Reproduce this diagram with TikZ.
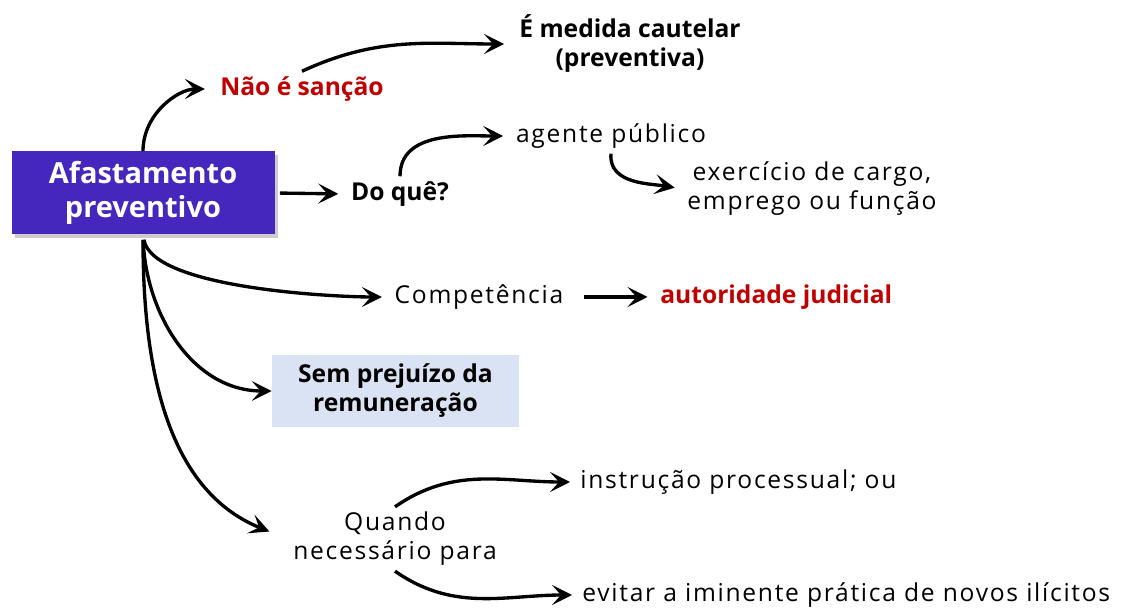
\documentclass[tikz,border=0pt]{standalone}
\usepackage{fontspec}
\setmainfont{Open Sans}
\newfontfamily\widefont{Open Sans}[LetterSpace=7]
\usepackage{tikz}
\usetikzlibrary{arrows.meta,positioning,shadows}
\definecolor{mainpurple}{HTML}{4527BE}
\definecolor{alertred}{HTML}{C00000}
\definecolor{paleblue}{HTML}{DAE3F3}
\tikzset{
  mainbox/.style = {fill=mainpurple, text=white, align=center,
                    font=\fontsize{16.5}{19}\selectfont\bfseries,
                    minimum width=52.6mm, minimum height=16.6mm,
                    drop shadow={opacity=0.4, shadow xshift=0.6mm, shadow yshift=-0.8mm}},
  note/.style    = {align=center, inner sep=1mm, font=\fontsize{14}{16.5}\selectfont\widefont},
  keynote/.style = {align=center, inner sep=1mm, font=\fontsize{14}{16.5}\selectfont\bfseries},
  hibox/.style   = {keynote, fill=paleblue, minimum width=49.4mm, minimum height=14.4mm},
  vec/.style     = {-{Stealth[length=4mm,width=4mm,inset=1.8mm]}, line width=1.9pt},
}

\begin{document}
\begin{tikzpicture}
  \useasboundingbox (0,0) rectangle (22.88,-12.16);
  \node[mainbox] (afast) at (2.86,-3.86) {Afastamento\\preventivo};
  \node[keynote,text=alertred] (nao) at (6.04,-1.78) {Não é sanção};
  \node[keynote] (medida) at (12.6,-0.88) {É medida cautelar\\(preventiva)};
  \node[keynote] (doque) at (8.0,-3.88) {Do quê?};
  \node[note] (agente) at (12.22,-2.72) {agente público};
  \node[note] (exerc) at (16.24,-3.78) {exercício de cargo,\\emprego ou função};
  \node[note] (compet) at (9.58,-5.94) {Competência};
  \node[keynote,text=alertred,anchor=west] (autor) at (13.1,-5.94 |- compet.west) {autoridade judicial};
  \node[hibox] (semprej) at (7.91,-7.82) {Sem prejuízo da\\remuneração};
  \node[note] (quando) at (7.9,-10.78) {Quando\\necessário para};
  \node[note,anchor=west] (instr) at (11.5,-9.64) {instrução processual; ou};
  \node[note,anchor=west] (evitar) at (11.54,-11.9) {evitar a iminente prática de novos ilícitos};

  % top branch
  \draw[vec,shorten >=2mm] (afast.north) to[out=90,in=180] (nao.west);
  \draw[vec,shorten >=2mm] (nao.north) to[out=25,in=180] (medida.west);
  % what
  \draw[vec,shorten <=1mm,shorten >=1.5mm] (afast.east) -- (doque.west);
  \draw[vec,shorten >=1.5mm] (doque.north) to[out=90,in=180] (agente.west);
  \draw[vec,shorten >=1.5mm] (agente.south) to[out=-95,in=170] (exerc.west);
  % lower branches
  \draw[vec,shorten <=1mm,shorten >=1.5mm] (afast.south) to[out=-80,in=180,looseness=0.55] (compet.west);
  \draw[vec,shorten <=1mm] (afast.south) to[out=-88,in=180] (semprej.west);
  \draw[vec,shorten <=1mm,shorten >=4mm] (afast.south) to[out=-90,in=158] (quando.west);
  \draw[vec,shorten <=3mm,shorten >=1.5mm] (compet.east) -- (autor.west);
  % when
  \draw[vec,shorten >=1mm] (quando.north) to[out=35,in=180] (instr.west);
  \draw[vec,shorten >=1mm] (quando.south) to[out=-35,in=180] (evitar.west);
\end{tikzpicture}
\end{document}
